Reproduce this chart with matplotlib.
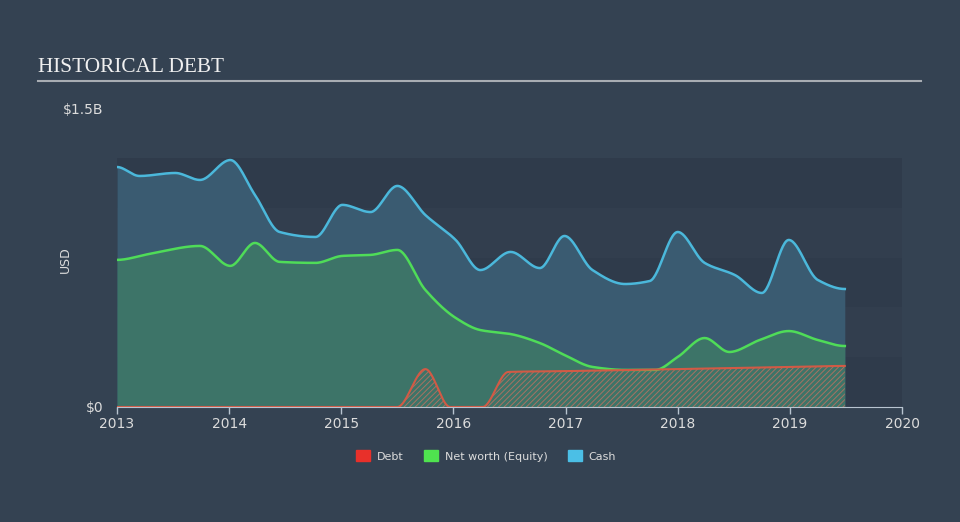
"""
Historical debt chart: debt, net worth (equity) and cash, 2013 - 2019.
"""

import numpy as np
import matplotlib
matplotlib.use('Agg')
import matplotlib.pyplot as plt
from matplotlib.patches import Patch

# values in USD billions
cash_years = [2013.0, 2013.2, 2013.52, 2013.74, 2014.01, 2014.23, 2014.45, 2014.77,
              2015.01, 2015.26, 2015.5, 2015.75, 2016.02, 2016.24, 2016.51, 2016.77,
              2016.99, 2017.24, 2017.53, 2017.75, 2018.0, 2018.24, 2018.51, 2018.75,
              2018.99, 2019.25, 2019.49]
cash = [1.204, 1.159, 1.174, 1.139, 1.239, 1.064, 0.878, 0.853,
        1.014, 0.978, 1.109, 0.963, 0.838, 0.687, 0.778, 0.697,
        0.858, 0.687, 0.617, 0.632, 0.878, 0.723, 0.662, 0.572,
        0.838, 0.637, 0.592]

equity_years = [2013.0, 2013.29, 2013.74, 2014.01, 2014.23, 2014.45, 2014.77, 2015.01,
                2015.26, 2015.5, 2015.75, 2016.02, 2016.24, 2016.51, 2016.77, 2016.99,
                2017.24, 2017.53, 2017.8, 2018.0, 2018.24, 2018.46, 2018.73, 2018.99,
                2019.25, 2019.49]
equity = [0.738, 0.768, 0.808, 0.708, 0.823, 0.728, 0.723, 0.758,
          0.763, 0.788, 0.587, 0.447, 0.386, 0.366, 0.321, 0.261,
          0.201, 0.186, 0.186, 0.251, 0.346, 0.276, 0.336, 0.381,
          0.336, 0.306]

debt_years = [2013.0, 2015.5, 2015.75, 2015.97, 2016.26, 2016.49, 2017.0, 2018.0,
              2019.0, 2019.49]
debt = [0.0, 0.0, 0.19, 0.0, 0.0, 0.176, 0.18, 0.19, 0.20, 0.206]

year_ticks = [2013, 2014, 2015, 2016, 2017, 2018, 2019, 2020]

BG = '#344252'
CASH_LINE = '#4bb8db'
CASH_FILL = '#3a5b71'
EQ_LINE = '#4fdc58'
EQ_FILL = '#3d7468'
DEBT_LINE = '#d25a45'
TEXT = '#dcdcdc'


def pchip(x, y, xs):
    """Shape preserving cubic curve through the points (render only)."""
    x = np.asarray(x, float)
    y = np.asarray(y, float)
    h = np.diff(x)
    d = np.diff(y) / h
    m = np.zeros_like(y)
    for k in range(1, len(y) - 1):
        if d[k - 1] * d[k] > 0:
            w1 = 2 * h[k] + h[k - 1]
            w2 = h[k] + 2 * h[k - 1]
            m[k] = (w1 + w2) / (w1 / d[k - 1] + w2 / d[k])
    idx = np.clip(np.searchsorted(x, xs) - 1, 0, len(x) - 2)
    t = (xs - x[idx]) / h[idx]
    h00 = 2 * t**3 - 3 * t**2 + 1
    h10 = t**3 - 2 * t**2 + t
    h01 = -2 * t**3 + 3 * t**2
    h11 = t**3 - t**2
    return (h00 * y[idx] + h10 * h[idx] * m[idx]
            + h01 * y[idx + 1] + h11 * h[idx] * m[idx + 1])


plt.rcParams['hatch.linewidth'] = 0.7

fig = plt.figure(figsize=(9.6, 5.22), dpi=100, facecolor=BG)
ax = fig.add_axes([117 / 960, 1 - 407 / 522, 785 / 960, 299 / 522])
ax.set_facecolor(BG)

# background bands
band_cols = ['#2f3b4b', '#323e4e']
for i in range(5):
    ax.axhspan(i * 0.25, (i + 1) * 0.25, color=band_cols[i % 2], lw=0, zorder=0)

xs = np.linspace(2013, 2019.49, 800)
cash_s = pchip(cash_years, cash, xs)
eq_s = pchip(equity_years, equity, xs)
debt_s = np.clip(pchip(debt_years, debt, xs), 0, None)

ax.fill_between(xs, 0, cash_s, color=CASH_FILL, lw=0, zorder=1)
ax.plot(xs, cash_s, color=CASH_LINE, lw=1.8, zorder=4)
ax.fill_between(xs, 0, eq_s, color=EQ_FILL, lw=0, zorder=2)
ax.plot(xs, eq_s, color=EQ_LINE, lw=1.8, zorder=4)
ax.fill_between(xs, 0, debt_s, facecolor='none', edgecolor='#a87262',
                hatch='//////', lw=0, zorder=3)
ax.plot(xs, debt_s, color=DEBT_LINE, lw=1.5, zorder=4)

ax.set_xlim(2013, 2020)
ax.set_ylim(0, 1.5)
ax.set_xticks(year_ticks)
ax.set_xticklabels([str(y) for y in year_ticks], color=TEXT, fontsize=10)
ax.set_yticks([0, 1.5])
ax.set_yticklabels(['$0', '$1.5B'], color=TEXT, fontsize=10)
ax.tick_params(axis='x', length=5, color='#b8c4d0', width=1, pad=2)
ax.tick_params(axis='y', length=0, pad=10)
for side in ['top', 'right', 'left']:
    ax.spines[side].set_visible(False)
ax.spines['bottom'].set_color('#b8c4d0')
ax.spines['bottom'].set_zorder(5)
ax.set_ylabel('USD', color=TEXT, fontsize=9)
ax.yaxis.set_label_coords((72 - 117) / 785, (407 - 260) / 299)

# title and rule
fig.text(38 / 960, 1 - 67 / 522, 'HISTORICAL DEBT', family='Liberation Serif',
         fontsize=15.3, color='#f0f0f0', va='center', ha='left')
fig.add_artist(plt.Line2D([38 / 960, 921 / 960], [1 - 81 / 522, 1 - 81 / 522],
                          color='#a8adb3', lw=1.5))

handles = [Patch(color='#e8302a', label='Debt'),
           Patch(color='#4fe34f', label='Net worth (Equity)'),
           Patch(color='#4bbfe6', label='Cash')]
leg = fig.legend(handles=handles, loc='center', bbox_to_anchor=(486 / 960, 1 - 456 / 522),
                 ncol=3, frameon=False, fontsize=8, handlelength=1.3, handleheight=1.1,
                 columnspacing=1.8, handletextpad=0.6)
for t in leg.get_texts():
    t.set_color(TEXT)

fig.savefig('out.png', dpi=100, facecolor=BG)
